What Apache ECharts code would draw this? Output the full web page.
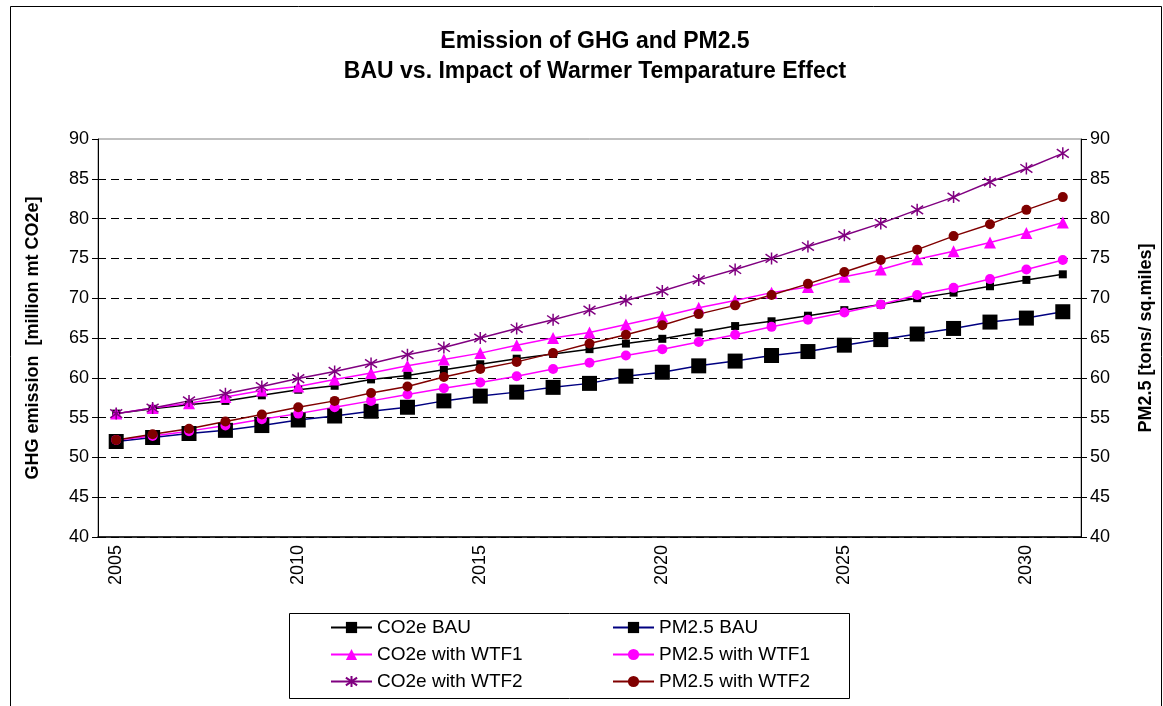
<!DOCTYPE html>
<html>
<head>
<meta charset="utf-8">
<script src="https://cdn.jsdelivr.net/npm/echarts@6/dist/echarts.min.js"></script>
<style>
  html, body { margin: 0; padding: 0; background: #fff; }
  #chart { width: 1163px; height: 706px; }
</style>
</head>
<body>
<div id="chart"></div>
<script>
var years = ['2005','2006','2007','2008','2009','2010','2011','2012','2013','2014','2015','2016','2017','2018',
  '2019','2020','2021','2022','2023','2024','2025','2026','2027','2028','2029','2030','2031'];
var yTicks = { min: 40, max: 90, step: 5 };

var co2Bau  = [55.5,56.1,56.6,57.1,57.8,58.5,59.0,59.8,60.3,61.0,61.7,62.4,63.0,63.6,64.3,64.9,65.7,66.5,67.1,67.8,68.5,69.2,70.0,70.7,71.5,72.3,73.0];
var co2Wtf1 = [55.5,56.2,56.8,57.6,58.4,58.9,59.8,60.6,61.5,62.3,63.1,64.1,65.0,65.7,66.7,67.7,68.8,69.7,70.7,71.4,72.7,73.6,74.9,75.9,77.0,78.2,79.5];
var co2Wtf2 = [55.5,56.2,57.1,58.0,58.9,59.9,60.8,61.8,62.9,63.8,65.0,66.2,67.3,68.5,69.7,70.9,72.3,73.6,75.0,76.5,77.9,79.4,81.1,82.7,84.6,86.3,88.2];
var pmBau   = [52.0,52.5,53.0,53.4,54.0,54.7,55.2,55.8,56.3,57.1,57.7,58.2,58.8,59.3,60.2,60.7,61.5,62.1,62.8,63.3,64.1,64.8,65.5,66.2,67.0,67.5,68.3];
var pmWtf1  = [52.2,52.7,53.3,54.0,54.8,55.5,56.3,57.1,57.9,58.7,59.4,60.2,61.1,61.9,62.8,63.6,64.5,65.4,66.4,67.3,68.2,69.2,70.4,71.3,72.4,73.6,74.8];
var pmWtf2  = [52.2,52.9,53.6,54.5,55.4,56.3,57.1,58.1,58.9,60.1,61.1,62.0,63.1,64.3,65.4,66.6,68.0,69.1,70.4,71.8,73.3,74.8,76.1,77.8,79.3,81.1,82.7];

var font = 'Arial, "Liberation Sans", sans-serif';
var asterisk = 'path://M5,0L5,10M0,1.5L10,8.5M0,8.5L10,1.5';

function yAxis(name, pos, gap) {
  return {
    type: 'value', position: pos, min: yTicks.min, max: yTicks.max, interval: yTicks.step,
    name: name, nameLocation: 'middle', nameGap: gap,
    nameTextStyle: { fontFamily: font, fontSize: 18, fontWeight: 'bold', color: '#000' },
    axisLine: { show: true, lineStyle: { color: '#000', width: 1 } },
    axisTick: { show: true, length: 6, lineStyle: { color: '#000' } },
    axisLabel: { fontFamily: font, fontSize: 18, color: '#000', margin: 9 },
    splitLine: pos === 'left' ? { show: true, showMaxLine: false, lineStyle: { color: '#000', type: [8, 5], width: 1 } } : { show: false }
  };
}

function line(name, data, axis, color, symbol, size, extra) {
  var s = {
    name: name, type: 'line', data: data, yAxisIndex: axis,
    symbol: symbol, symbolSize: size,
    lineStyle: { color: color, width: 1.5 },
    itemStyle: { color: color },
    emphasis: { disabled: true }, animation: false
  };
  if (extra) s.itemStyle = extra;
  return s;
}

var chart = echarts.init(document.getElementById('chart'));
chart.setOption({
  backgroundColor: '#fff',
  animation: false,
  title: {
    text: 'Emission of GHG and PM2.5\nBAU vs. Impact of Warmer Temparature Effect',
    left: 590, top: 22, textAlign: 'center',
    textStyle: { fontFamily: font, fontSize: 23, fontWeight: 'bold', color: '#000', lineHeight: 30 }
  },
  graphic: [
    { type: 'rect', left: 8, top: 4, shape: { width: 1151, height: 720 }, style: { fill: 'none', stroke: '#000', lineWidth: 1 }, silent: true },
    { type: 'rect', left: 289, top: 613, shape: { width: 560, height: 85 }, style: { fill: '#fff', stroke: '#000', lineWidth: 1 }, silent: true, z: -1 }
  ],
  legend: {
    left: 330, top: 614, width: 570, itemGap: 0, padding: 0,
    itemWidth: 41, itemHeight: 14,
    textStyle: { fontFamily: font, fontSize: 19, color: '#000', width: 235, lineHeight: 27 },
    data: ['CO2e BAU', 'PM2.5 BAU', 'CO2e with WTF1', 'PM2.5 with WTF1', 'CO2e with WTF2', 'PM2.5 with WTF2']
  },
  grid: { left: 98, right: 80, top: 139, bottom: 169, show: true, borderColor: '#808080', borderWidth: 1 },
  xAxis: {
    type: 'category', data: years, boundaryGap: true,
    axisLine: { lineStyle: { color: '#000', width: 1.5 } },
    axisTick: { interval: 0, length: 5, lineStyle: { color: '#000' } },
    axisLabel: { interval: 4, rotate: 90, fontFamily: font, fontSize: 18, color: '#000', margin: 8 }
  },
  yAxis: [
    yAxis('GHG emission  [million mt CO2e]', 'left', 56),
    yAxis('PM2.5 [tons/ sq.miles]', 'right', 56)
  ],
  series: [
    line('CO2e BAU', co2Bau, 0, '#000', 'rect', 8),
    line('PM2.5 BAU', pmBau, 1, '#000080', 'rect', 15, { color: '#000' }),
    line('CO2e with WTF1', co2Wtf1, 0, '#ff00ff', 'triangle', 12),
    line('PM2.5 with WTF1', pmWtf1, 1, '#ff00ff', 'circle', 10),
    line('CO2e with WTF2', co2Wtf2, 0, '#800080', asterisk, 12, { color: '#800080', borderColor: '#800080', borderWidth: 1.5 }),
    line('PM2.5 with WTF2', pmWtf2, 1, '#800000', 'circle', 10)
  ]
});
</script>
</body>
</html>
